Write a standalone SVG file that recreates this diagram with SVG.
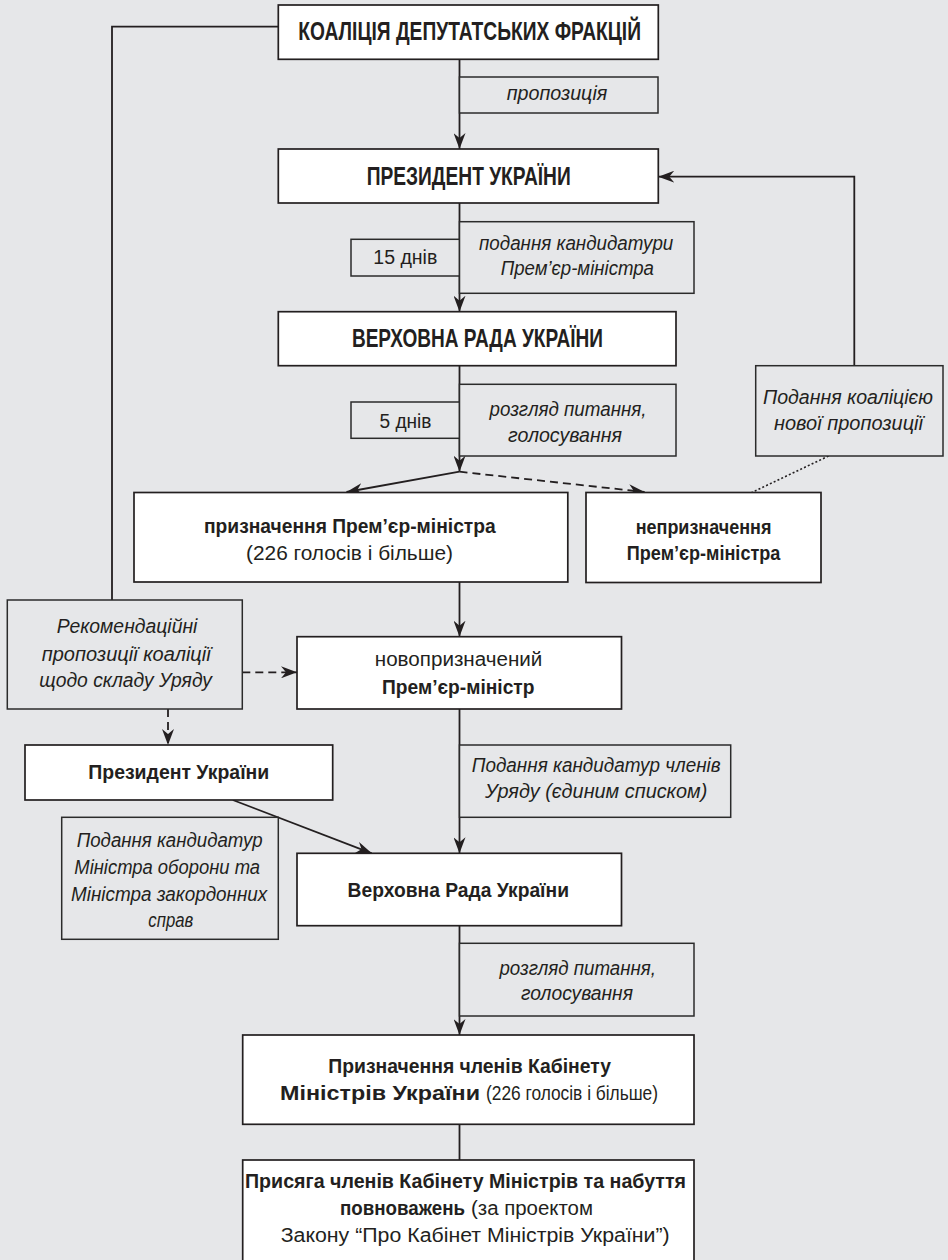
<svg xmlns="http://www.w3.org/2000/svg" width="948" height="1260" viewBox="0 0 948 1260">
<defs>
<style>
.node{fill:#ffffff;stroke:#231f20;stroke-width:1.7}
.lbl{fill:#e6e7e9;stroke:#2b2b2b;stroke-width:1.5}
.cn{fill:none;stroke:#231f20;stroke-width:1.8}
.dash{stroke-dasharray:8,5}
.dot{stroke-dasharray:2,2.2;stroke-width:1.6}
text{font-family:"Liberation Sans Narrow","Liberation Sans",Arial,sans-serif;fill:#231f20}
.cap{font-size:25.5px;font-weight:bold}
.b{font-size:19.5px;font-weight:bold}
.r{font-size:19.5px}
.i{font-size:19.5px;font-style:italic}
</style>
<marker id="arr" viewBox="0 0 16 12" refX="16" refY="6" markerWidth="16" markerHeight="12" markerUnits="userSpaceOnUse" orient="auto">
<path d="M0,0 L16,6 L0,12 L5,6 Z" fill="#231f20"/>
</marker>
</defs>
<rect x="0" y="0" width="948" height="1260" fill="#e6e7e9"/>

<g id="connectors">
<polyline class="cn" points="278.3,26.7 112,26.7 112,600"/>
<line class="cn" x1="459.5" y1="59.3" x2="459.5" y2="149" marker-end="url(#arr)"/>
<polyline class="cn" points="854.3,365.7 854.3,176.7 658.3,176.7" marker-end="url(#arr)"/>
<line class="cn" x1="459.5" y1="203" x2="459.5" y2="311.7" marker-end="url(#arr)"/>
<line class="cn" x1="459.5" y1="365.7" x2="459.5" y2="471.7" marker-end="url(#arr)"/>
<line class="cn" x1="459.5" y1="471.7" x2="346.5" y2="492" marker-end="url(#arr)"/>
<line class="cn dash" x1="459.5" y1="471.7" x2="644.6" y2="492" marker-end="url(#arr)"/>
<line class="cn dot" x1="828.6" y1="456" x2="751.8" y2="492.5"/>
<line class="cn" x1="459.5" y1="582" x2="459.5" y2="636.7" marker-end="url(#arr)"/>
<line class="cn dash" x1="242.3" y1="672.3" x2="297" y2="672.3" marker-end="url(#arr)"/>
<line class="cn dash" x1="168" y1="709" x2="168" y2="745" marker-end="url(#arr)"/>
<line class="cn" x1="459.5" y1="709" x2="459.5" y2="853.3" marker-end="url(#arr)"/>
<line class="cn" x1="232.8" y1="800" x2="371.8" y2="853.3" marker-end="url(#arr)"/>
<line class="cn" x1="459.5" y1="925.7" x2="459.5" y2="1035" marker-end="url(#arr)"/>
<line class="cn" x1="459.5" y1="1124.3" x2="459.5" y2="1160"/>
</g>

<g id="coalition">
<rect class="node" x="278.3" y="5" width="380" height="54.3"/>
<text class="cap" x="298.3" y="40" textLength="342.7" lengthAdjust="spacingAndGlyphs">КОАЛІЦІЯ ДЕПУТАТСЬКИХ ФРАКЦІЙ</text>
</g>
<g id="lbl-proposition">
<rect class="lbl" x="459.5" y="77" width="198.5" height="36"/>
<text class="i" x="506.7" y="100" textLength="100.6" lengthAdjust="spacingAndGlyphs">пропозиція</text>
</g>
<g id="president">
<rect class="node" x="278.3" y="149" width="380" height="54"/>
<text class="cap" x="366.7" y="185.3" textLength="204" lengthAdjust="spacingAndGlyphs">ПРЕЗИДЕНТ УКРАЇНИ</text>
</g>
<g id="lbl-15days">
<rect class="lbl" x="351" y="239.3" width="108.5" height="36.7"/>
<text class="r" x="373.3" y="264" textLength="64" lengthAdjust="spacingAndGlyphs">15 днів</text>
</g>
<g id="lbl-candidate">
<rect class="lbl" x="459.5" y="221.7" width="234.5" height="71.6"/>
<text class="i" x="479" y="250" textLength="194.3" lengthAdjust="spacingAndGlyphs">подання кандидатури</text>
<text class="i" x="500.7" y="275" textLength="153.3" lengthAdjust="spacingAndGlyphs">Прем’єр-міністра</text>
</g>
<g id="rada">
<rect class="node" x="278.3" y="311.7" width="397.7" height="54"/>
<text class="cap" x="351.9" y="346.5" textLength="251" lengthAdjust="spacingAndGlyphs">ВЕРХОВНА РАДА УКРАЇНИ</text>
</g>
<g id="lbl-5days">
<rect class="lbl" x="351" y="402" width="108.5" height="36.3"/>
<text class="r" x="379.5" y="427.5" textLength="52" lengthAdjust="spacingAndGlyphs">5 днів</text>
</g>
<g id="lbl-review1">
<rect class="lbl" x="459.5" y="384.3" width="216.5" height="71.7"/>
<text class="i" x="489.5" y="416" textLength="157" lengthAdjust="spacingAndGlyphs">розгляд питання,</text>
<text class="i" x="508" y="442" textLength="114" lengthAdjust="spacingAndGlyphs">голосування</text>
</g>
<g id="lbl-newprop">
<rect class="lbl" x="755.7" y="365.7" width="187.3" height="90.3"/>
<text class="i" x="763" y="404" textLength="170" lengthAdjust="spacingAndGlyphs">Подання коаліцією</text>
<text class="i" x="774" y="430" textLength="149" lengthAdjust="spacingAndGlyphs">нової пропозиції</text>
</g>
<g id="appoint-pm">
<rect class="node" x="134" y="492.5" width="433.8" height="89.5"/>
<text class="b" x="204" y="533.3" textLength="291.7" lengthAdjust="spacingAndGlyphs">призначення Прем’єр-міністра</text>
<text class="r" x="246" y="559.5" textLength="207" lengthAdjust="spacingAndGlyphs">(226 голосів і більше)</text>
</g>
<g id="not-appoint">
<rect class="node" x="586" y="492.5" width="235" height="90"/>
<text class="b" x="635.7" y="534" textLength="135.7" lengthAdjust="spacingAndGlyphs">непризначення</text>
<text class="b" x="626.8" y="560" textLength="153.6" lengthAdjust="spacingAndGlyphs">Прем’єр-міністра</text>
</g>
<g id="lbl-recommend">
<rect class="lbl" x="7.3" y="600" width="235" height="109"/>
<text class="i" x="56.7" y="633.3" textLength="140.7" lengthAdjust="spacingAndGlyphs">Рекомендаційні</text>
<text class="i" x="41.7" y="660.5" textLength="169" lengthAdjust="spacingAndGlyphs">пропозиції коаліції</text>
<text class="i" x="39.3" y="687" textLength="172.7" lengthAdjust="spacingAndGlyphs">щодо складу Уряду</text>
</g>
<g id="new-pm">
<rect class="node" x="297" y="636.7" width="324.5" height="72.3"/>
<text class="r" x="374.8" y="666" textLength="167.5" lengthAdjust="spacingAndGlyphs">новопризначений</text>
<text class="b" x="382" y="694.3" textLength="152.5" lengthAdjust="spacingAndGlyphs">Прем’єр-міністр</text>
</g>
<g id="president2">
<rect class="node" x="25" y="745" width="307.7" height="55"/>
<text class="b" x="88.3" y="779.3" textLength="181" lengthAdjust="spacingAndGlyphs">Президент України</text>
</g>
<g id="lbl-members">
<rect class="lbl" x="459.5" y="745" width="271.2" height="72.3"/>
<text class="i" x="471.7" y="771.7" textLength="249" lengthAdjust="spacingAndGlyphs">Подання кандидатур членів</text>
<text class="i" x="485" y="798.3" textLength="222.3" lengthAdjust="spacingAndGlyphs">Уряду (єдиним списком)</text>
</g>
<g id="lbl-ministers">
<rect class="lbl" x="61.7" y="817.3" width="216.6" height="122"/>
<text class="i" x="76.7" y="847.3" textLength="186" lengthAdjust="spacingAndGlyphs">Подання кандидатур</text>
<text class="i" x="74.3" y="874" textLength="185.7" lengthAdjust="spacingAndGlyphs">Міністра оборони та</text>
<text class="i" x="71" y="901" textLength="196.3" lengthAdjust="spacingAndGlyphs">Міністра закордонних</text>
<text class="i" x="148.3" y="926.7" textLength="45" lengthAdjust="spacingAndGlyphs">справ</text>
</g>
<g id="rada2">
<rect class="node" x="297" y="853.3" width="324.5" height="72.4"/>
<text class="b" x="347.6" y="897" textLength="221.4" lengthAdjust="spacingAndGlyphs">Верховна Рада України</text>
</g>
<g id="lbl-review2">
<rect class="lbl" x="459.5" y="943.3" width="234.5" height="72.7"/>
<text class="i" x="499.4" y="975" textLength="156.6" lengthAdjust="spacingAndGlyphs">розгляд питання,</text>
<text class="i" x="521" y="1000" textLength="112" lengthAdjust="spacingAndGlyphs">голосування</text>
</g>
<g id="appoint-cabinet">
<rect class="node" x="242.7" y="1035" width="451.3" height="89.3"/>
<text class="b" x="328.3" y="1073.3" textLength="282.7" lengthAdjust="spacingAndGlyphs">Призначення членів Кабінету</text>
<text class="b" x="280" y="1100" textLength="200" lengthAdjust="spacingAndGlyphs">Міністрів України</text>
<text class="r" x="486" y="1100" textLength="172" lengthAdjust="spacingAndGlyphs">(226 голосів і більше)</text>
</g>
<g id="oath">
<rect class="node" x="242.7" y="1160" width="451.3" height="110"/>
<text class="b" x="245" y="1188.3" textLength="441" lengthAdjust="spacingAndGlyphs">Присяга членів Кабінету Міністрів та набуття</text>
<text class="b" x="340" y="1215" textLength="125" lengthAdjust="spacingAndGlyphs">повноважень</text>
<text class="r" x="471" y="1215" textLength="122" lengthAdjust="spacingAndGlyphs">(за проектом</text>
<text class="r" x="280.7" y="1242.3" textLength="389" lengthAdjust="spacingAndGlyphs">Закону “Про Кабінет Міністрів України”)</text>
</g>
</svg>
